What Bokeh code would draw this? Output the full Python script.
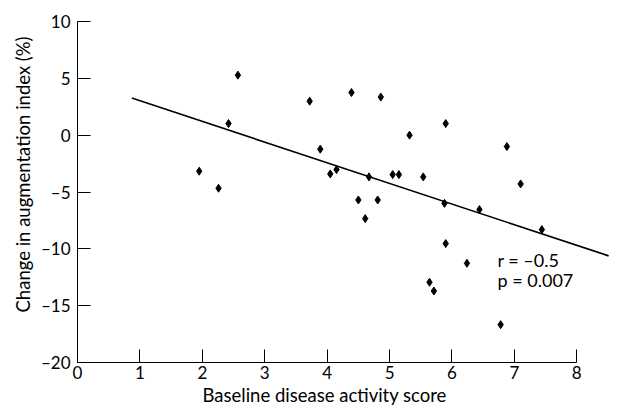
from bokeh.plotting import figure
from bokeh.models import Range1d, FixedTicker, Label, Title
from bokeh.embed import file_html
from bokeh.resources import INLINE

# Data
das_score = [1.95, 2.26, 2.42, 2.57, 3.72, 3.89, 4.05, 4.15, 4.39, 4.50,
             4.61, 4.67, 4.81, 4.86, 5.05, 5.15, 5.32, 5.54, 5.88, 5.90,
             5.90, 6.24, 6.44, 5.64, 5.71, 6.78, 6.88, 7.10, 7.44]
aix_change = [-3.17, -4.67, 1.02, 5.28, 2.99, -1.23, -3.41, -3.03, 3.75, -5.70,
              -7.34, -3.67, -5.70, 3.35, -3.47, -3.47, 0.0, -3.67, -6.00, 1.02,
              -9.54, -11.27, -6.55, -12.94, -13.71, -16.67, -1.00, -4.29, -8.31]
fit_x = [0.87, 8.51]
fit_y = [3.26, -10.62]
x_ticks = [0, 1, 2, 3, 4, 5, 6, 7, 8]
y_ticks = [-20, -15, -10, -5, 0, 5, 10]
y_tick_labels = ["\u201320", "\u201315", "\u201310", "\u20135", "0", "5", "10"]
x_title = "Baseline disease activity score"
y_title = "Change in augmentation index (%)"
stats_text = ["r = \u20130.5", "p = 0.007"]

FONT = "Lato"

p = figure(width=618, height=415, output_backend="svg", toolbar_location=None,
           x_range=Range1d(0, 8.54), y_range=Range1d(-20, 10),
           min_border_left=77, min_border_right=8, min_border_top=21,
           min_border_bottom=53)
p.outline_line_color = None
p.xgrid.visible = False
p.ygrid.visible = False
p.background_fill_color = "white"

for ax in (p.xaxis[0], p.yaxis[0]):
    ax.axis_line_color = "black"
    ax.axis_line_width = 1
    ax.major_tick_line_color = "black"
    ax.major_tick_out = 0
    ax.major_tick_in = 13
    ax.minor_tick_line_color = None
    ax.major_label_text_font = FONT
    ax.major_label_text_font_size = "17px"
    ax.major_label_text_color = "black"

p.xaxis[0].ticker = FixedTicker(ticks=x_ticks)
p.xaxis[0].bounds = (x_ticks[0], x_ticks[-1])
p.xaxis[0].major_label_standoff = 3
p.yaxis[0].ticker = FixedTicker(ticks=y_ticks)
p.yaxis[0].bounds = (y_ticks[0], y_ticks[-1])
p.yaxis[0].major_label_overrides = {t: s for t, s in zip(y_ticks, y_tick_labels)}
p.yaxis[0].major_label_standoff = 7

p.line(fit_x, fit_y, line_color="black", line_width=1.6)
p.scatter(das_score, aix_change, marker="diamond", size=8,
          fill_color="black", line_color="black")

for i, s in enumerate(stats_text):
    p.add_layout(Label(x=6.73, y=-11.0 - 1.76 * i, text=s, text_font=FONT,
                       text_font_size="18px", text_color="black",
                       text_baseline="alphabetic", text_align="left"))

p.add_layout(Title(text=x_title, align="left", offset=125, standoff=0,
                   text_font=FONT, text_font_size="18.5px", text_font_style="normal",
                   text_color="black"), "below")
p.add_layout(Title(text=y_title, align="left", offset=50, standoff=7,
                   text_font=FONT, text_font_size="18.5px", text_font_style="normal",
                   text_color="black"), "left")

open("out.html", "w").write(file_html(p, INLINE))
